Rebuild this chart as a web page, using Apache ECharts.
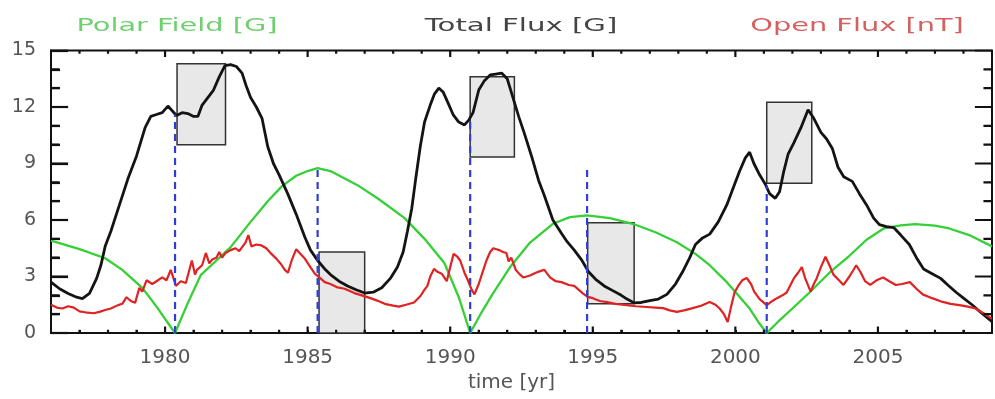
<!DOCTYPE html>
<html>
<head>
<meta charset="utf-8">
<script src="https://cdn.jsdelivr.net/npm/echarts@6/dist/echarts.min.js"></script>
<style>
html,body{margin:0;padding:0;background:#fff;}
#chart{width:995px;height:399px;}
</style>
</head>
<body>
<div id="chart"></div>
<script>
// ---- data ----
const xTickLabels = [1980, 1985, 1990, 1995, 2000, 2005];
const yTickLabels = [0, 3, 6, 9, 12, 15];
const xMinorTicks = [1977, 1978, 1979, 1981, 1982, 1983, 1984, 1986, 1987, 1988, 1989, 1991, 1992, 1993, 1994,
                     1996, 1997, 1998, 1999, 2001, 2002, 2003, 2004, 2006, 2007, 2008];
const yMinorTicks = [1, 2, 4, 5, 7, 8, 10, 11, 13, 14];

const polarField = [
  [1976.0,4.9],[1977.0,4.45],[1977.9,3.97],[1978.5,3.35],[1979.2,2.4],[1979.7,1.4],[1980.0,0.75],[1980.35,0.0],
  [1980.8,1.6],[1981.25,3.07],[1981.8,3.85],[1982.3,4.56],[1983.0,5.9],[1983.6,7.0],[1984.1,7.8],[1984.6,8.35],
  [1985.0,8.6],[1985.35,8.75],[1985.8,8.6],[1986.3,8.2],[1986.75,7.85],[1987.5,7.1],[1988.4,6.1],[1989.1,5.0],
  [1989.8,3.7],[1990.3,1.9],[1990.7,0.0],[1991.1,1.1],[1991.5,2.1],[1992.1,3.5],[1992.8,4.8],[1993.6,5.8],
  [1994.2,6.15],[1994.8,6.25],[1995.6,6.1],[1996.4,5.8],[1997.2,5.35],[1997.95,4.82],[1998.6,4.2],[1999.1,3.6],
  [1999.7,2.7],[2000.1,2.0],[2000.5,1.3],[2000.8,0.6],[2001.1,0.0],[2001.5,0.6],[2002.0,1.3],[2002.6,2.15],
  [2003.3,3.2],[2004.0,4.1],[2004.6,4.95],[2005.2,5.55],[2005.8,5.72],[2006.3,5.78],[2007.0,5.7],[2007.5,5.55],
  [2008.2,5.2],[2009.0,4.6]
];

const totalFlux = [
  [1976.0,2.7],[1976.3,2.35],[1976.6,2.1],[1976.9,1.9],[1977.1,1.82],[1977.35,2.1],[1977.6,2.9],[1977.75,3.6],
  [1977.9,4.6],[1978.1,5.4],[1978.4,6.8],[1978.7,8.2],[1979.0,9.4],[1979.3,10.9],[1979.5,11.5],[1979.7,11.6],
  [1979.9,11.7],[1980.1,12.05],[1980.25,11.8],[1980.4,11.55],[1980.6,11.7],[1980.8,11.65],[1981.0,11.5],[1981.15,11.5],
  [1981.3,12.1],[1981.5,12.5],[1981.7,12.9],[1981.9,13.6],[1982.1,14.2],[1982.3,14.25],[1982.5,14.15],[1982.7,13.8],
  [1982.85,13.1],[1983.0,12.5],[1983.2,12.0],[1983.4,11.4],[1983.6,9.9],[1983.8,9.0],[1984.0,8.4],[1984.3,7.4],
  [1984.6,6.3],[1984.9,5.1],[1985.1,4.4],[1985.35,3.85],[1985.6,3.4],[1985.8,3.1],[1986.1,2.75],[1986.4,2.5],
  [1986.7,2.3],[1987.0,2.12],[1987.3,2.17],[1987.6,2.4],[1987.9,2.9],[1988.15,3.5],[1988.35,4.3],[1988.5,5.4],
  [1988.65,6.6],[1988.8,8.3],[1988.95,9.9],[1989.1,11.2],[1989.3,12.1],[1989.45,12.7],[1989.6,13.0],[1989.75,12.8],
  [1989.9,12.3],[1990.1,11.6],[1990.3,11.2],[1990.5,11.05],[1990.65,11.3],[1990.8,11.7],[1991.0,12.9],[1991.2,13.4],
  [1991.4,13.7],[1991.6,13.75],[1991.8,13.8],[1992.0,13.5],[1992.2,12.5],[1992.4,11.5],[1992.6,10.6],[1992.85,9.4],
  [1993.1,8.1],[1993.3,7.3],[1993.6,6.0],[1993.9,5.3],[1994.1,4.85],[1994.35,4.4],[1994.6,3.9],[1994.85,3.25],
  [1995.1,2.85],[1995.4,2.5],[1995.7,2.25],[1996.0,2.0],[1996.2,1.8],[1996.45,1.6],[1996.7,1.62],[1997.0,1.72],
  [1997.3,1.8],[1997.6,2.05],[1997.9,2.6],[1998.15,3.25],[1998.4,4.0],[1998.6,4.7],[1998.85,5.05],[1999.1,5.25],
  [1999.4,5.9],[1999.7,6.8],[1999.95,7.8],[2000.15,8.6],[2000.35,9.3],[2000.5,9.6],[2000.65,9.0],[2000.85,8.4],
  [2001.05,7.9],[2001.2,7.4],[2001.4,7.15],[2001.55,7.5],[2001.7,8.6],[2001.85,9.5],[2002.05,10.1],[2002.3,10.9],
  [2002.55,11.85],[2002.75,11.4],[2003.0,10.65],[2003.2,10.3],[2003.4,9.8],[2003.6,8.8],[2003.8,8.3],[2004.1,8.05],
  [2004.35,7.4],[2004.6,6.8],[2004.85,6.1],[2005.05,5.75],[2005.3,5.65],[2005.55,5.6],[2005.8,5.2],[2006.1,4.7],
  [2006.35,4.0],[2006.6,3.4],[2006.9,3.15],[2007.2,2.9],[2007.45,2.55],[2007.75,2.15],[2008.0,1.85],[2008.3,1.5],
  [2008.6,1.1],[2009.0,0.6]
];

const openFlux = [
  [1976.0,1.5],[1976.2,1.35],[1976.4,1.3],[1976.6,1.42],[1976.8,1.35],[1977.0,1.15],[1977.2,1.1],[1977.5,1.05],
  [1977.7,1.12],[1977.9,1.22],[1978.1,1.3],[1978.35,1.48],[1978.5,1.55],[1978.65,1.9],[1978.8,1.7],[1978.95,1.6],
  [1979.1,2.4],[1979.2,2.2],[1979.35,2.8],[1979.55,2.6],[1979.7,2.75],[1979.9,2.95],[1980.05,2.8],[1980.2,3.35],
  [1980.38,2.5],[1980.55,2.75],[1980.73,2.65],[1980.94,3.85],[1981.05,3.1],[1981.12,3.35],[1981.3,3.6],[1981.43,4.25],
  [1981.55,3.7],[1981.65,3.9],[1981.8,4.0],[1981.9,4.3],[1982.0,4.0],[1982.12,4.25],[1982.3,4.4],[1982.47,4.5],
  [1982.6,4.35],[1982.82,4.8],[1982.92,5.2],[1983.03,4.6],[1983.2,4.7],[1983.38,4.65],[1983.55,4.5],[1983.73,4.2],
  [1983.9,3.95],[1984.07,3.65],[1984.2,3.35],[1984.31,3.2],[1984.45,3.9],[1984.6,4.45],[1984.75,4.2],[1984.9,3.95],
  [1985.05,3.6],[1985.25,3.15],[1985.45,2.9],[1985.6,2.7],[1985.8,2.6],[1986.05,2.42],[1986.3,2.35],[1986.64,2.12],
  [1986.9,2.0],[1987.2,1.85],[1987.44,1.72],[1987.7,1.55],[1988.0,1.45],[1988.2,1.4],[1988.45,1.5],[1988.73,1.62],
  [1988.95,1.95],[1989.1,2.3],[1989.2,2.5],[1989.3,3.0],[1989.43,3.4],[1989.55,3.25],[1989.7,3.15],[1989.88,2.75],
  [1990.0,3.5],[1990.12,4.2],[1990.25,4.05],[1990.35,3.85],[1990.5,3.2],[1990.62,2.8],[1990.75,2.3],[1990.85,2.05],
  [1991.0,2.6],[1991.15,3.3],[1991.27,3.85],[1991.4,4.3],[1991.51,4.5],[1991.62,4.45],[1991.72,4.4],[1991.85,4.3],
  [1991.97,4.25],[1992.05,3.8],[1992.14,4.0],[1992.3,3.35],[1992.45,3.1],[1992.56,2.95],[1992.8,3.05],[1993.0,3.2],
  [1993.18,3.3],[1993.3,3.35],[1993.5,2.95],[1993.7,2.75],[1993.9,2.7],[1994.16,2.55],[1994.35,2.5],[1994.5,2.3],
  [1994.64,2.12],[1994.82,1.92],[1995.0,1.85],[1995.25,1.7],[1995.5,1.64],[1995.8,1.55],[1996.2,1.48],[1996.5,1.42],
  [1996.9,1.38],[1997.2,1.35],[1997.47,1.32],[1997.7,1.2],[1997.95,1.12],[1998.2,1.2],[1998.5,1.32],[1998.8,1.45],
  [1999.1,1.65],[1999.3,1.5],[1999.45,1.3],[1999.6,1.0],[1999.73,0.58],[1999.85,1.4],[1999.97,2.15],[2000.1,2.5],
  [2000.24,2.8],[2000.4,2.92],[2000.55,2.6],[2000.66,2.2],[2000.85,1.8],[2001.1,1.48],[2001.3,1.7],[2001.46,1.85],
  [2001.65,2.0],[2001.8,2.15],[2001.95,2.6],[2002.05,2.9],[2002.2,3.2],[2002.33,3.5],[2002.45,2.9],[2002.64,2.2],
  [2002.75,2.6],[2002.85,2.9],[2003.0,3.5],[2003.16,4.05],[2003.3,3.6],[2003.44,3.1],[2003.6,2.85],[2003.79,2.55],
  [2004.0,3.0],[2004.24,3.6],[2004.4,3.2],[2004.55,2.75],[2004.73,2.55],[2004.95,2.8],[2005.18,2.95],[2005.4,2.75],
  [2005.63,2.55],[2005.85,2.6],[2006.12,2.7],[2006.35,2.35],[2006.57,2.05],[2006.9,1.85],[2007.27,1.65],[2007.55,1.55],
  [2007.86,1.48],[2008.15,1.4],[2008.42,1.3],[2008.7,1.05],[2009.0,0.75]
];

// vertical dashed markers: year and top value
const eventYears = [1980.35, 1985.35, 1990.7, 1994.8, 2001.1];
const eventTops  = [11.6, 8.75, 11.45, 8.75, 7.85];

// grey boxes: start year, end year, low value, high value
const boxStart = [1980.42, 1985.4, 1990.7, 1994.82, 2001.1];
const boxEnd   = [1982.12, 1987.0, 1992.25, 1996.45, 2002.68];
const boxLow   = [10.0, 0.0, 9.35, 1.55, 7.95];
const boxHigh  = [14.3, 4.3, 13.6, 5.85, 12.25];

// ---- chart ----
const FONT = 'DejaVu Sans';
const INK = '#111111';
const X_MIN = 1976, X_MAX = 2009, Y_MIN = 0, Y_MAX = 15;
const chart = echarts.init(document.getElementById('chart'));

// IDL-style inward ticks on all four sides, as short segments in data space
const Y_MAJ_LEN = 0.6, Y_MIN_LEN = 0.3, X_MAJ_LEN = 0.34, X_MIN_LEN = 0.17;
function yTickSegs(values, len) {
  const out = [];
  values.forEach(v => {
    out.push([X_MIN, v], [X_MIN + len, v], '-', [X_MAX, v], [X_MAX - len, v], '-');
  });
  return out;
}
function xTickSegs(values, len) {
  const out = [];
  values.forEach(v => {
    out.push([v, Y_MIN], [v, Y_MIN + len], '-', [v, Y_MAX], [v, Y_MAX - len], '-');
  });
  return out;
}
const tickSegs = []
  .concat(yTickSegs(yTickLabels, Y_MAJ_LEN))
  .concat(yTickSegs(yMinorTicks, Y_MIN_LEN))
  .concat(xTickSegs(xTickLabels, X_MAJ_LEN))
  .concat(xTickSegs(xMinorTicks, X_MIN_LEN));

const boxAreas = boxStart.map((s, i) => [
  {xAxis: s, yAxis: boxLow[i]},
  {xAxis: boxEnd[i], yAxis: boxHigh[i]}
]);

const dashedSeries = eventYears.map((yr, i) => ({
  type: 'line',
  data: [[yr, 0], [yr, eventTops[i]]],
  symbol: 'none',
  silent: true,
  z: 6,
  lineStyle: {color: '#2f3ed6', width: 2.2, type: [7, 5]}
}));

const option = {
  animation: false,
  grid: {left: 51, right: -5, top: 50.5, bottom: 66, show: true, borderColor: INK, borderWidth: 2, backgroundColor: 'transparent'},
  xAxis: {
    type: 'value', min: X_MIN, max: X_MAX, interval: 1,
    axisLine: {show: true, onZero: false, lineStyle: {color: INK, width: 2}},
    axisTick: {show: true, inside: true, length: 3, lineStyle: {color: INK, width: 2}},
    axisLabel: {formatter: v => (v % 5 === 0 ? String(v) : ''), margin: 15, color: '#555', fontFamily: FONT, fontSize: 20},
    splitLine: {show: false},
    name: 'time [yr]', nameLocation: 'middle', nameGap: 37,
    nameTextStyle: {color: '#555', fontFamily: FONT, fontSize: 20, padding: [0, 20, 0, 0]}
  },
  yAxis: {
    type: 'value', min: Y_MIN, max: Y_MAX, interval: 3,
    axisLine: {show: true, onZero: false, lineStyle: {color: INK, width: 2}},
    axisTick: {show: true, inside: true, length: 17, lineStyle: {color: INK, width: 2.2}},
    minorTick: {show: true, splitNumber: 3, length: 9, lineStyle: {color: INK, width: 2.2}},
    axisLabel: {margin: 15, color: '#555', fontFamily: FONT, fontSize: 19, formatter: v => String(v)},
    splitLine: {show: false}
  },
  graphic: [
    {type: 'text', x: 177, y: 26, scaleX: 1.6, z: 10,
      style: {text: 'Polar Field [G]', fill: '#6fd06f', font: '18px "DejaVu Sans"', textAlign: 'center', textVerticalAlign: 'middle'}},
    {type: 'text', x: 521, y: 26, scaleX: 1.62, z: 10,
      style: {text: 'Total Flux [G]', fill: '#444444', font: '18px "DejaVu Sans"', textAlign: 'center', textVerticalAlign: 'middle'}},
    {type: 'text', x: 857, y: 26, scaleX: 1.6, z: 10,
      style: {text: 'Open Flux [nT]', fill: '#d46060', font: '18px "DejaVu Sans"', textAlign: 'center', textVerticalAlign: 'middle'}}
  ],
  series: [
    {
      type: 'line', name: 'Polar Field [G]', data: polarField,
      symbol: 'none', z: 3, lineStyle: {color: '#35d035', width: 2.3},
      markArea: {
        silent: true, z: 1,
        itemStyle: {color: '#e8e8e8', borderColor: '#333333', borderWidth: 1.5},
        data: boxAreas
      }
    },
    {
      type: 'line', name: 'Total Flux [G]', data: totalFlux,
      symbol: 'none', z: 4, lineStyle: {color: '#141414', width: 2.8}
    },
    {
      type: 'line', name: 'Open Flux [nT]', data: openFlux,
      symbol: 'none', z: 5, lineStyle: {color: '#e02222', width: 2.2}
    },
    {
      type: 'line', name: 'ticks', data: tickSegs, symbol: 'none', z: 8,
      lineStyle: {color: INK, width: 2.2}
    }
  ].concat(dashedSeries)
};
chart.setOption(option);
</script>
</body>
</html>
